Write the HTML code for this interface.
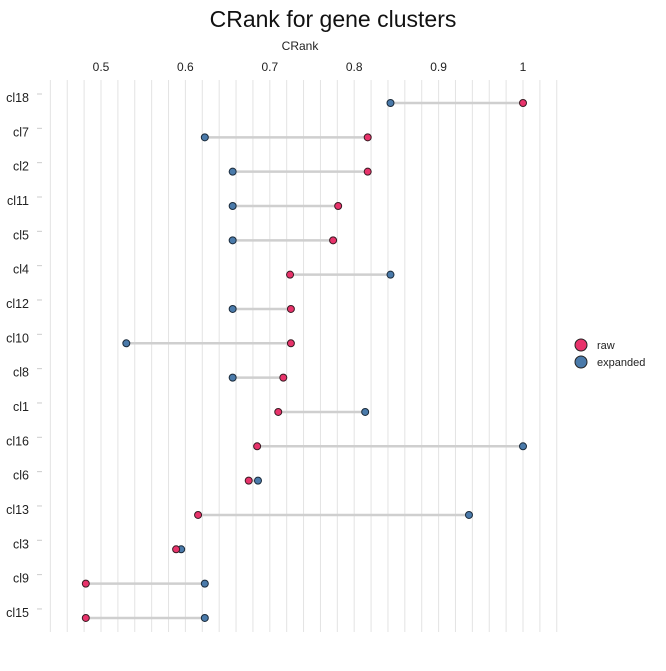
<!DOCTYPE html>
<html><head><meta charset="utf-8"><style>
body{margin:0;background:#fff;font-family:"Liberation Sans",sans-serif}
</style></head><body>
<svg id="c" width="666" height="666" xmlns="http://www.w3.org/2000/svg">
<text x="333" y="27" text-anchor="middle" font-size="23" fill="#111">CRank for gene clusters</text>
<text x="300" y="50" text-anchor="middle" font-size="12" fill="#222">CRank</text>
<g id="grid"></g><g id="xt"></g><g id="yt"></g><g id="marks"></g>
<g>
<circle cx="581" cy="345" r="6" fill="#e8336b" stroke="#222"/>
<text x="597" y="349" font-size="11" fill="#222">raw</text>
<circle cx="581" cy="362" r="6" fill="#4a7aaa" stroke="#222"/>
<text x="597" y="366" font-size="11" fill="#222">expanded</text>
</g>
</svg>
<script>
const categories=["cl18","cl7","cl2","cl11","cl5","cl4","cl12","cl10","cl8","cl1","cl16","cl6","cl13","cl3","cl9","cl15"];
const rawValues=[1.0,0.816,0.816,0.781,0.775,0.724,0.725,0.725,0.716,0.71,0.685,0.675,0.615,0.589,0.482,0.482];
const expandedValues=[0.843,0.623,0.656,0.656,0.656,0.843,0.656,0.53,0.656,0.813,1.0,0.686,0.936,0.595,0.623,0.623];
const xTicks=[0.5,0.6,0.7,0.8,0.9,1];
const xTickLabels=["0.5","0.6","0.7","0.8","0.9","1"];
const NS="http://www.w3.org/2000/svg";
const X=v=>101+(v-0.5)*844;
const Y=i=>103+i*34.33;
function mk(t,a,p){const e=document.createElementNS(NS,t);for(const k in a)e.setAttribute(k,a[k]);document.getElementById(p).appendChild(e);return e;}
for(let k=0;k<=30;k++){const v=0.44+k*0.02;
const l=mk('line',{x1:X(v),x2:X(v),y1:80,y2:632,stroke:'#e3e3e3','stroke-width':1},'grid');

}
xTicks.forEach((v,i)=>{const t=mk('text',{x:X(v),y:71,'text-anchor':'middle','font-size':12,fill:'#222'},'xt');t.textContent=xTickLabels[i];

});
categories.forEach((c,i)=>{const y=Y(i);
const t=mk('text',{x:29,y:y-1,'text-anchor':'end','font-size':12.5,fill:'#222'},'yt');t.textContent=c;


const tk=mk('line',{x1:37,x2:42,y1:y-9,y2:y-9,stroke:'#ccc'},'yt');


const ln=mk('line',{x1:X(rawValues[i]),x2:X(expandedValues[i]),y1:y,y2:y,stroke:'#cfcfcf','stroke-width':2.5},'marks');


const e=mk('circle',{cx:X(expandedValues[i]),cy:y,r:3.5,fill:'#4a7aaa',stroke:'#1a2a3a','stroke-width':1},'marks');


const r=mk('circle',{cx:X(rawValues[i]),cy:y,r:3.5,fill:'#e8336b',stroke:'#3a1a22','stroke-width':1},'marks');

});
</script>
</body></html>
